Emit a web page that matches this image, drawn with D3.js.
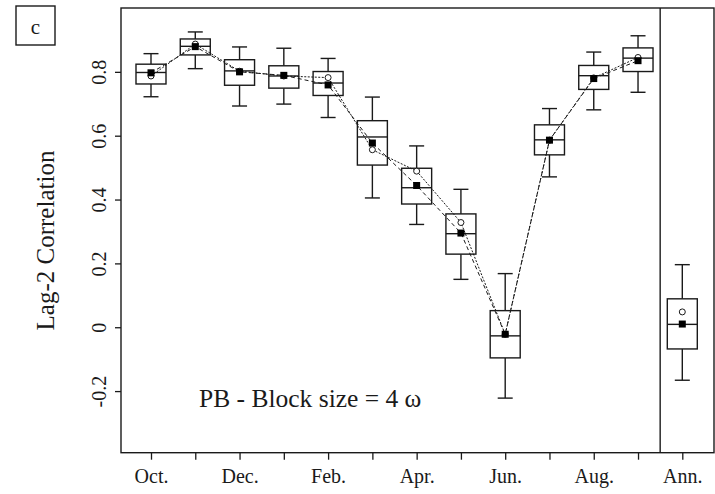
<!DOCTYPE html>
<html><head><meta charset="utf-8">
<script src="https://cdn.jsdelivr.net/npm/d3@7"></script>
<style>
html,body{margin:0;padding:0;background:#fff;}
svg{display:block;}
svg text{font-family:"Liberation Serif","Times New Roman",serif !important;}
</style></head>
<body>
<svg id="chart" width="715" height="494"></svg>
<script>
// ---- data ----
const categories = ["Oct.","Nov.","Dec.","Jan.","Feb.","Mar.","Apr.","May","Jun.","Jul.","Aug.","Sep.","Ann."];
const tickLabels = ["Oct.","","Dec.","","Feb.","","Apr.","","Jun.","","Aug.","","Ann."];
const whiskerLow  = [0.722, 0.810, 0.693, 0.699, 0.657, 0.405, 0.322, 0.150, -0.222, 0.471, 0.681, 0.736, -0.166];
const q1          = [0.762, 0.853, 0.758, 0.749, 0.726, 0.508, 0.386, 0.229, -0.096, 0.540, 0.745, 0.801, -0.068];
const median      = [0.798, 0.880, 0.803, 0.787, 0.765, 0.596, 0.437, 0.293, -0.027, 0.587, 0.788, 0.843, 0.009];
const q3          = [0.824, 0.903, 0.838, 0.819, 0.801, 0.647, 0.498, 0.355, 0.052, 0.634, 0.820, 0.875, 0.089];
const whiskerHigh = [0.857, 0.925, 0.878, 0.874, 0.842, 0.721, 0.568, 0.432, 0.168, 0.685, 0.862, 0.913, 0.196];
const squares     = [0.797, 0.879, 0.800, 0.789, 0.759, 0.577, 0.444, 0.295, -0.022, 0.586, 0.779, 0.835, 0.010];
const circles     = [0.787, 0.887, 0.802, 0.787, 0.782, 0.556, 0.489, 0.328, -0.022, 0.586, 0.781, 0.845, 0.048];
const yTicks = [-0.2, 0, 0.2, 0.4, 0.6, 0.8];
const yTickLabels = ["-0.2","0","0.2","0.4","0.6","0.8"];
const annotation = "PB - Block size = 4 \u03C9";
const panelLabel = "c";
const yTitle = "Lag-2 Correlation";

// ---- layout ----
const svg = d3.select("#chart");
const L = 121, R = 714, T = 8, B = 452.7;
const x = d3.scaleLinear().domain([0.3224, 13.716]).range([L, R]);
const y = d3.scaleLinear().domain([-0.393, 1.0]).range([B, T]);
const ink = "#1a1a1a";
const idx = d3.range(categories.length).map(i => i + 1);

// frame
svg.append("rect").attr("x", L).attr("y", T).attr("width", R - L).attr("height", B - T)
  .attr("fill", "none").attr("stroke", ink).attr("stroke-width", 1.4);
// divider
svg.append("line").attr("x1", x(12.5)).attr("x2", x(12.5)).attr("y1", T).attr("y2", B)
  .attr("stroke", ink).attr("stroke-width", 1.4);

// axes
const xAxis = d3.axisBottom(x).tickValues(idx).tickSize(7).tickPadding(9)
  .tickFormat((d, i) => tickLabels[i]);
const gx = svg.append("g").attr("transform", `translate(0,${B})`).call(xAxis);
gx.select(".domain").remove();
gx.selectAll(".tick line").attr("stroke", ink).attr("stroke-width", 1.3);
gx.selectAll(".tick text").attr("font-size", 20).attr("fill", ink);

const yAxis = d3.axisLeft(y).tickValues(yTicks).tickSize(6).tickPadding(0)
  .tickFormat((d, i) => yTickLabels[i]);
const gy = svg.append("g").attr("transform", `translate(${L},0)`).call(yAxis);
gy.select(".domain").remove();
gy.selectAll(".tick line").attr("stroke", ink).attr("stroke-width", 1.3);
gy.selectAll(".tick text")
  .attr("x", null).attr("dy", null)
  .attr("font-size", 20).attr("fill", ink)
  .attr("text-anchor", "middle")
  .attr("transform", "translate(-15,0) rotate(-90)");

// boxes
const hw = 15, cap = 7.5;
const boxes = svg.append("g").attr("stroke", ink).attr("stroke-width", 1.4).attr("fill", "none");
idx.forEach((p, i) => {
  const cx = x(p);
  boxes.append("line").attr("x1", cx).attr("x2", cx).attr("y1", y(whiskerHigh[i])).attr("y2", y(q3[i]));
  boxes.append("line").attr("x1", cx).attr("x2", cx).attr("y1", y(q1[i])).attr("y2", y(whiskerLow[i]));
  boxes.append("line").attr("x1", cx - cap).attr("x2", cx + cap).attr("y1", y(whiskerHigh[i])).attr("y2", y(whiskerHigh[i]));
  boxes.append("line").attr("x1", cx - cap).attr("x2", cx + cap).attr("y1", y(whiskerLow[i])).attr("y2", y(whiskerLow[i]));
  boxes.append("rect").attr("x", cx - hw).attr("y", y(q3[i])).attr("width", 2 * hw)
    .attr("height", y(q1[i]) - y(q3[i])).attr("fill", "#fff");
  boxes.append("line").attr("x1", cx - hw).attr("x2", cx + hw).attr("y1", y(median[i])).attr("y2", y(median[i]));
});

// lines (monthly only)
const monthIdx = d3.range(12);
const line = arr => d3.line().x(i => x(i + 1)).y(i => y(arr[i]))(monthIdx);
svg.append("path").attr("d", line(circles)).attr("fill", "none").attr("stroke", ink)
  .attr("stroke-width", 1).attr("stroke-dasharray", "2,1.5");
svg.append("path").attr("d", line(squares)).attr("fill", "none").attr("stroke", ink)
  .attr("stroke-width", 1).attr("stroke-dasharray", "4,3");

// markers
svg.append("g").selectAll("circle").data(idx).join("circle")
  .attr("cx", p => x(p)).attr("cy", (p, i) => y(circles[i])).attr("r", 3)
  .attr("fill", "#fff").attr("stroke", ink).attr("stroke-width", 1);
svg.append("g").selectAll("rect").data(idx).join("rect")
  .attr("x", p => x(p) - 3.5).attr("y", (p, i) => y(squares[i]) - 3.5)
  .attr("width", 7).attr("height", 7).attr("fill", "#000");

// annotation
svg.append("text").attr("x", 199).attr("y", 406.5).attr("font-size", 25.5).attr("fill", ink)
  .text(annotation);

// y title
svg.append("text").attr("transform", `translate(54,240.5) rotate(-90)`)
  .attr("text-anchor", "middle").attr("font-size", 25).attr("fill", ink).text(yTitle);

// panel label
svg.append("rect").attr("x", 16).attr("y", 6).attr("width", 39).attr("height", 39)
  .attr("fill", "#fff").attr("stroke", ink).attr("stroke-width", 1.4);
svg.append("text").attr("x", 35.5).attr("y", 34).attr("text-anchor", "middle")
  .attr("font-size", 21).attr("fill", ink).text(panelLabel);
</script>
</body></html>
